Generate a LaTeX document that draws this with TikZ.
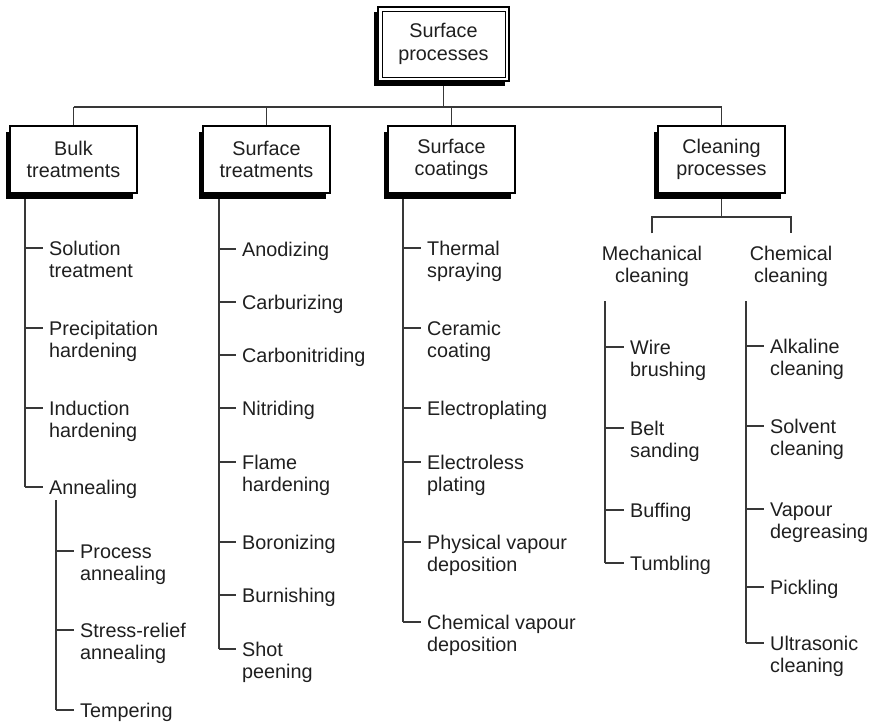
\documentclass[tikz,border=0pt]{standalone}
\usepackage{fontspec}
\setmainfont{Liberation Sans}
\usetikzlibrary{shadows,backgrounds}
\newcommand\lfont{\fontsize{19.8pt}{22.5pt}\selectfont}
\tikzset{
  conn/.style={draw=black!78, line width=1.3pt},
  leafnode/.style={anchor=north west, yshift=8.65pt, align=left, inner sep=0pt, font=\lfont, text=black!88},
  boxnode/.style={draw=black, line width=2pt, fill=white, minimum width=127pt, minimum height=67pt,
    align=center, inner sep=0pt, font=\lfont, text=black!88,
    drop shadow={shadow xshift=-4pt, shadow yshift=-6pt, opacity=1, fill=black}},
  rootnode/.style={draw=black, line width=2pt, fill=white, minimum width=131pt, minimum height=74pt,
    align=center, inner sep=0pt, font=\lfont, text=black!88,
    drop shadow={shadow xshift=-4pt, shadow yshift=-5pt, opacity=1, fill=black}},
  sublabel/.style={anchor=north, yshift=8.65pt, align=center, inner sep=0pt, font=\lfont, text=black!88}
}
\newcommand\mkleaf[5]{%
  \coordinate (#1t) at (#2,#4);
  \node[leafnode] (#1) at (#3,#4) {\strut #5};
  \draw[conn, shorten >=6pt] (#1t) -- (#1t -| #1.west);
}
\begin{document}
\begin{tikzpicture}[x=1pt, y=-1pt]
\useasboundingbox (0,0) rectangle (869,721);

% boxes
\node[rootnode] (root) at (443.5,44) {Surface\\processes};
\draw[line width=1pt] ([shift={(5pt,-5pt)}]root.north west) rectangle ([shift={(-5pt,5pt)}]root.south east);
\node[boxnode] (bulk) at (73.5,159.5) {Bulk\\treatments};
\node[boxnode] (st) at (266.5,159.5) {Surface\\treatments};
\node[boxnode] (sc) at (451.5,159.5) {Surface\\coatings};
\node[boxnode] (clean) at (721.5,159.5) {Cleaning\\processes};

% column start coordinates
\coordinate (bulkV) at (25,193);
\coordinate (annV) at (56,500);
\coordinate (stV) at (219,193);
\coordinate (scV) at (403,193);
\coordinate (mechV) at (605,301);
\coordinate (chemV) at (746,301);

% Bulk treatments
\mkleaf{sol}{25}{49}{248}{Solution\\treatment}
\mkleaf{pre}{25}{49}{328}{Precipitation\\hardening}
\mkleaf{ind}{25}{49}{408}{Induction\\hardening}
\mkleaf{ann}{25}{49}{487}{Annealing}

% Annealing sub-items
\mkleaf{pan}{56}{80}{551}{Process\\annealing}
\mkleaf{sra}{56}{80}{630}{Stress-relief\\annealing}
\mkleaf{tmp}{56}{80}{710}{Tempering}

% Surface treatments
\mkleaf{ano}{219}{242}{249}{Anodizing}
\mkleaf{car}{219}{242}{302}{Carburizing}
\mkleaf{cbn}{219}{242}{355}{Carbonitriding}
\mkleaf{nit}{219}{242}{408}{Nitriding}
\mkleaf{fla}{219}{242}{462}{Flame\\hardening}
\mkleaf{bor}{219}{242}{542}{Boronizing}
\mkleaf{bur}{219}{242}{595}{Burnishing}
\mkleaf{sho}{219}{242}{649}{Shot\\peening}

% Surface coatings
\mkleaf{the}{403}{427}{248}{Thermal\\spraying}
\mkleaf{cer}{403}{427}{328}{Ceramic\\coating}
\mkleaf{elp}{403}{427}{408}{Electroplating}
\mkleaf{ell}{403}{427}{462}{Electroless\\plating}
\mkleaf{pvd}{403}{427}{542}{Physical vapour\\deposition}
\mkleaf{cvd}{403}{427}{622}{Chemical vapour\\deposition}

% Mechanical cleaning
\mkleaf{wir}{605}{630}{347}{Wire\\brushing}
\mkleaf{bel}{605}{630}{428}{Belt\\sanding}
\mkleaf{buf}{605}{630}{510}{Buffing}
\mkleaf{tum}{605}{630}{563}{Tumbling}

% Chemical cleaning
\mkleaf{alk}{746}{770}{346}{Alkaline\\cleaning}
\mkleaf{slv}{746}{770}{426}{Solvent\\cleaning}
\mkleaf{vap}{746}{770}{509}{Vapour\\degreasing}
\mkleaf{pic}{746}{770}{587}{Pickling}
\mkleaf{ult}{746}{770}{643}{Ultrasonic\\cleaning}

\node[sublabel] (mech) at (652,253) {\strut Mechanical\\cleaning};
\node[sublabel] (chem) at (791,253) {\strut Chemical\\cleaning};

\coordinate (hbar) at (443.5,107);
\coordinate (cbr) at (721.5,217);

\begin{scope}[on background layer]
\draw[conn] (bulkV) -- (annt);
\draw[conn] (annV) -- (tmpt);
\draw[conn] (stV) -- (shot);
\draw[conn] (scV) -- (cvdt);
\draw[conn] (mechV) -- (tumt);
\draw[conn] (chemV) -- (ultt);
\draw[conn] (root.south) -- (hbar);
\draw[conn] (bulk.north |- hbar) -- (clean.north |- hbar);
\draw[conn] (bulk.north |- hbar) -- (bulk.north);
\draw[conn] (st.north |- hbar) -- (st.north);
\draw[conn] (sc.north |- hbar) -- (sc.north);
\draw[conn] (clean.north |- hbar) -- (clean.north);
\draw[conn] (clean.south) -- (cbr);
\draw[conn] ([yshift=11pt]mech.north) -- (mech.north |- cbr) -- (chem.north |- cbr) -- ([yshift=11pt]chem.north);
\end{scope}
\end{tikzpicture}
\end{document}
